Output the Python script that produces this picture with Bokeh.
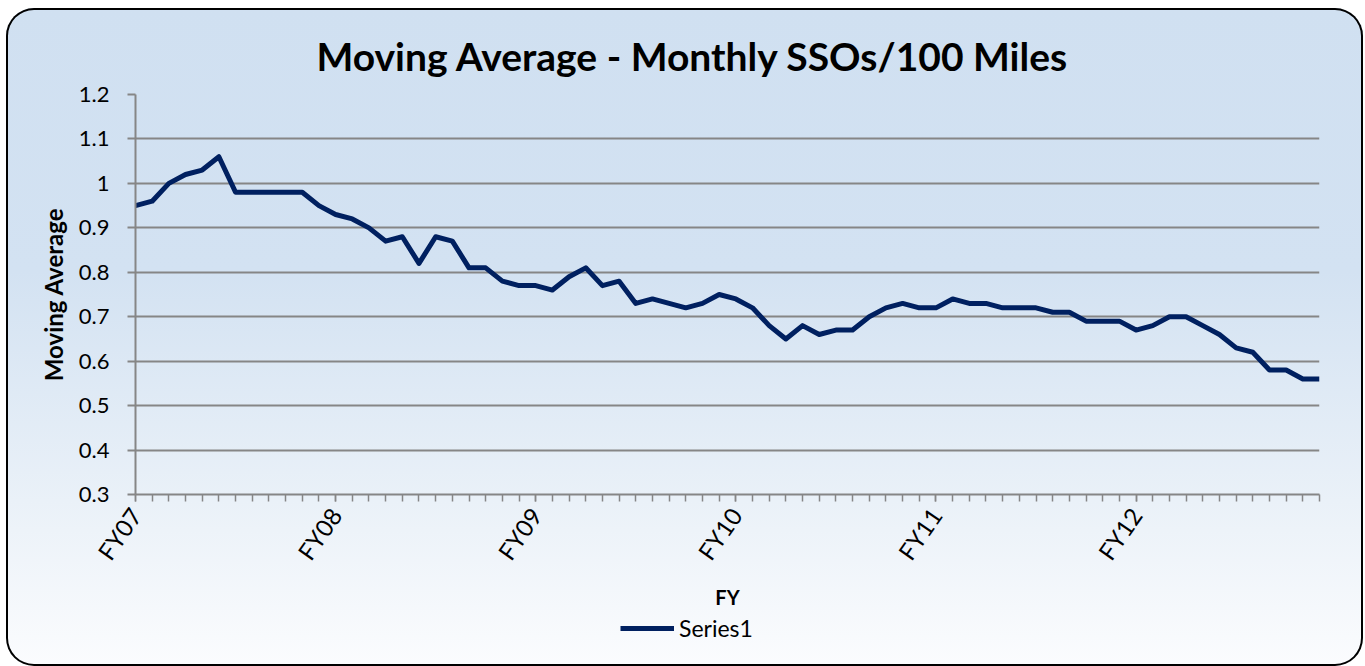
import math
from bokeh.plotting import figure
from bokeh.layouts import column
from bokeh.models import (Range1d, FixedTicker, CustomJSTickFormatter, Legend, LegendItem)
from bokeh.embed import file_html
from bokeh.resources import INLINE

# ---- data ----
fy_labels = ["FY07", "FY08", "FY09", "FY10", "FY11", "FY12"]
months_per_year = 12
moving_average = [
    0.95, 0.96, 1.00, 1.02, 1.03, 1.06, 0.98, 0.98, 0.98, 0.98, 0.98, 0.95,
    0.93, 0.92, 0.90, 0.87, 0.88, 0.82, 0.88, 0.87, 0.81, 0.81, 0.78, 0.77,
    0.77, 0.76, 0.79, 0.81, 0.77, 0.78, 0.73, 0.74, 0.73, 0.72, 0.73, 0.75,
    0.74, 0.72, 0.68, 0.65, 0.68, 0.66, 0.67, 0.67, 0.70, 0.72, 0.73, 0.72,
    0.72, 0.74, 0.73, 0.73, 0.72, 0.72, 0.72, 0.71, 0.71, 0.69, 0.69, 0.69,
    0.67, 0.68, 0.70, 0.70, 0.68, 0.66, 0.63, 0.62, 0.58, 0.58, 0.56, 0.56,
]
y_ticks = [0.3, 0.4, 0.5, 0.6, 0.7, 0.8, 0.9, 1.0, 1.1, 1.2]
series_name = "Series1"
title_text = "Moving Average - Monthly SSOs/100 Miles"
x_title = "FY"
y_title = "Moving Average"

months = list(range(len(moving_average)))

FONT = "Lato"
GRID = "#868686"
NAVY = "#002060"

# ---- main chart ----
p = figure(
    frame_width=1184, frame_height=400,
    output_backend="svg", toolbar_location=None,
    x_range=Range1d(months[0], months[-1]),
    y_range=Range1d(y_ticks[0], y_ticks[-1]),
    min_border_left=129, min_border_right=44,
    min_border_top=86, min_border_bottom=118,
)
p.background_fill_alpha = 0
p.border_fill_alpha = 0
p.outline_line_color = None

# title
p.title.text = title_text
p.title.text_font = FONT
p.title.text_font_size = "39px"
p.title.text_font_style = "bold"
p.title.text_color = "#000000"
p.title.align = "left"
p.title.offset = 181
p.title.standoff = 31

# line
r = p.line(months, moving_average, line_color=NAVY, line_width=5, line_join="round")

# grid
p.xgrid.visible = False
p.ygrid.grid_line_color = GRID
p.ygrid.grid_line_width = 2

# y axis
ya = p.yaxis[0]
ya.ticker = FixedTicker(ticks=y_ticks)
ya.formatter = CustomJSTickFormatter(code="return tick.toFixed(1).replace(/\\.0$/, '')")
ya.axis_line_color = GRID
ya.axis_line_width = 2
ya.major_tick_line_color = GRID
ya.major_tick_line_width = 2
ya.major_tick_out = 8
ya.major_tick_in = 0
ya.minor_tick_line_color = None
ya.major_label_text_font = FONT
ya.major_label_text_font_size = "22px"
ya.major_label_text_color = "#000000"
ya.major_label_standoff = 18
ya.axis_label = y_title
ya.axis_label_text_font = FONT
ya.axis_label_text_font_size = "24px"
ya.axis_label_text_font_style = "bold"
ya.axis_label_text_color = "#000000"
ya.axis_label_standoff = 8

# x axis
xa = p.xaxis[0]
xa.ticker = FixedTicker(ticks=[i * months_per_year for i in range(len(fy_labels))],
                        minor_ticks=months)
xa.formatter = CustomJSTickFormatter(args=dict(labels=fy_labels, n=months_per_year),
                                     code="return labels[Math.round(tick / n)]")
xa.axis_line_color = GRID
xa.axis_line_width = 2
xa.major_tick_line_color = GRID
xa.major_tick_line_width = 1.5
xa.major_tick_out = 7
xa.major_tick_in = 0
xa.minor_tick_line_color = GRID
xa.minor_tick_line_width = 1.5
xa.minor_tick_out = 7
xa.minor_tick_in = 0
xa.major_label_orientation = math.radians(55)
xa.major_label_text_font = FONT
xa.major_label_text_font_size = "24px"
xa.major_label_text_color = "#000000"
xa.major_label_standoff = 9
xa.axis_label = x_title
xa.axis_label_text_font = FONT
xa.axis_label_text_font_size = "20px"
xa.axis_label_text_font_style = "bold"
xa.axis_label_text_color = "#000000"
xa.axis_label_standoff = 9

# ---- legend strip (frame is aligned with the chart frame by the column) ----
p2 = figure(
    width=1357, height=54,
    output_backend="svg", toolbar_location=None,
    x_axis_location=None, y_axis_location=None,
    x_range=Range1d(0, 1), y_range=Range1d(0, 1),
    min_border=0,
)
p2.background_fill_alpha = 0
p2.border_fill_alpha = 0
p2.outline_line_color = None
p2.grid.visible = False
# same series, hidden: only its legend sample is shown in this strip
r2 = p2.line(months, moving_average, line_color=NAVY, line_width=5, visible=False)

legend = Legend(
    items=[LegendItem(label=series_name, renderers=[r2])],
    location=(485, 24),
    click_policy="none",
    background_fill_alpha=0, border_line_color=None,
    padding=0, margin=0, spacing=0,
    glyph_width=54, glyph_height=26, label_height=26,
    label_standoff=5,
    label_text_font=FONT, label_text_font_size="23px", label_text_color="#000000",
)
p2.add_layout(legend, "center")

layout = column(
    p, p2, spacing=0,
    styles={
        "margin-left": "6px",
        "margin-top": "8px",
        "background": "linear-gradient(to bottom, #D0E0F1 0%, #D3E2F2 40%, #EAF1F8 75%, #FBFCFE 100%)",
        "border-radius": "28px",
        "box-shadow": "inset 0 0 0 2px #000000",
    },
)

open("out.html", "w").write(file_html(layout, INLINE))
